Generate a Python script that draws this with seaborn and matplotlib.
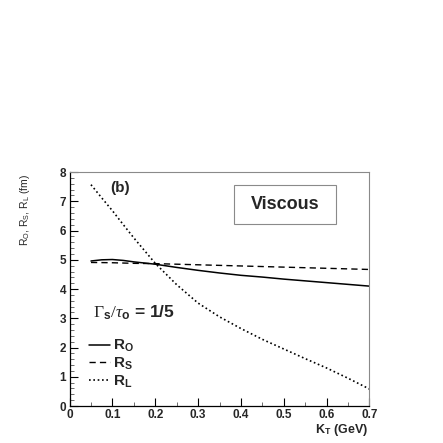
import numpy as np
import pandas as pd
import seaborn as sns
import matplotlib.pyplot as plt
from matplotlib.patches import Rectangle
from matplotlib.ticker import MultipleLocator, FuncFormatter

sns.set_theme(style="ticks")
plt.rcParams['font.family'] = ['Liberation Sans', 'DejaVu Sans']
plt.rcParams['mathtext.fontset'] = 'custom'
plt.rcParams['mathtext.rm'] = 'Liberation Serif'
plt.rcParams['mathtext.it'] = 'Liberation Serif:italic'
plt.rcParams['mathtext.bf'] = 'Liberation Sans:bold'
plt.rcParams['mathtext.sf'] = 'Liberation Sans'

# data
kt = [0.05, 0.075, 0.1, 0.125, 0.15, 0.2, 0.25, 0.3, 0.35, 0.4, 0.45, 0.5, 0.55, 0.6, 0.65, 0.7]
r_o = [4.96, 5.00, 5.01, 4.98, 4.93, 4.85, 4.74, 4.64, 4.55, 4.47, 4.41, 4.34, 4.28, 4.22, 4.16, 4.10]
r_s = [4.91, 4.905, 4.90, 4.89, 4.88, 4.87, 4.85, 4.83, 4.81, 4.79, 4.77, 4.75, 4.73, 4.71, 4.69, 4.67]
r_l = [7.57, 7.12, 6.68, 6.21, 5.75, 4.88, 4.15, 3.52, 3.05, 2.65, 2.28, 1.95, 1.62, 1.30, 0.95, 0.58]

df = pd.DataFrame({'kt': kt, 'r_o': r_o, 'r_s': r_s, 'r_l': r_l})

fig = plt.figure(figsize=(4.43, 4.43), dpi=100)
fig.patch.set_facecolor('white')
ax = fig.add_axes([0.157, 0.0835, 0.677, 0.528])
ax.set_facecolor('white')

sns.lineplot(data=df, x='kt', y='r_o', color='black', lw=1.1, ax=ax,
             label=r'R$_\mathbf{O}$')
sns.lineplot(data=df, x='kt', y='r_s', color='black', lw=1.0, ax=ax,
             linestyle=(0, (4.5, 3)), label=r'R$_\mathbf{S}$')
sns.lineplot(data=df, x='kt', y='r_l', color='black', lw=1.2, ax=ax,
             linestyle=(0, (1, 1.6)), label=r'R$_\mathbf{L}$')

ax.set_xlim(0, 0.7)
ax.set_ylim(0, 8)
ax.xaxis.set_major_locator(MultipleLocator(0.1))
ax.xaxis.set_minor_locator(MultipleLocator(0.05))
ax.yaxis.set_major_locator(MultipleLocator(1))
ax.yaxis.set_minor_locator(MultipleLocator(0.2))
fmt = FuncFormatter(lambda v, p: f'{round(v, 2):g}')
ax.xaxis.set_major_formatter(fmt)
ax.yaxis.set_major_formatter(fmt)

ax.tick_params(which='major', direction='in', length=5.5, width=0.8, color='black',
               labelsize=8.5, pad=2.5)
ax.tick_params(which='minor', direction='in', length=2.8, width=0.6, color='#555555')
for lab in ax.get_xticklabels() + ax.get_yticklabels():
    lab.set_fontweight('bold')

for side in ['left', 'bottom']:
    ax.spines[side].set_color('black')
    ax.spines[side].set_linewidth(0.9)
for side in ['top', 'right']:
    ax.spines[side].set_color('#8a8a8a')
    ax.spines[side].set_linewidth(0.8)

ax.set_xlabel('')
ax.set_ylabel('')
fig.text(0.831, 0.029, r'K$_\mathbf{T}$ (GeV)', ha='right', va='center',
         fontsize=9, fontweight='bold')
fig.text(0.056, 1 - 210 / 443, r'R$_\mathsf{O}$, R$_\mathsf{S}$, R$_\mathsf{L}$ (fm)',
         rotation=90, ha='center', va='center', fontsize=7.5)

ax.text(0.135, 0.932, '(b)', transform=ax.transAxes, ha='left', va='center',
        fontsize=11, fontweight='bold')

ax.add_patch(Rectangle((0.547, 0.776), 0.343, 0.168, transform=ax.transAxes,
                       fill=False, edgecolor='#8a8a8a', lw=0.8))
ax.text(0.718, 0.86, 'Viscous', transform=ax.transAxes, ha='center', va='center',
        fontsize=13, fontweight='bold')

ax.text(0.078, 0.397, r'$\Gamma_\mathbf{s}/\tau_\mathbf{o}$ = 1/5', transform=ax.transAxes,
        ha='left', va='center', fontsize=12.5, fontweight='bold')

leg = ax.legend(loc='upper left', bbox_to_anchor=(0.065, 0.29), frameon=False,
                handlelength=1.4, handletextpad=0.2, labelspacing=0.1,
                borderaxespad=0, borderpad=0,
                prop={'weight': 'bold', 'size': 11})

fig.savefig('out.png', dpi=100, facecolor='white')
